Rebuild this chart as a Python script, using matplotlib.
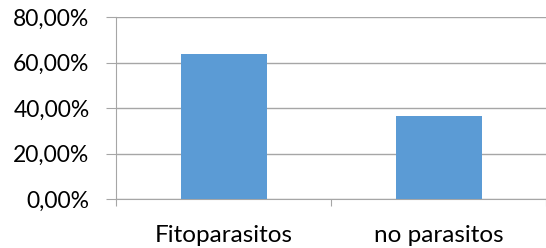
import matplotlib.pyplot as plt
from matplotlib.ticker import FuncFormatter

categorias = ["Fitoparasitos", "no parasitos"]
porcentajes = [0.636, 0.364]
ticks_y = [0.0, 0.2, 0.4, 0.6, 0.8]

plt.rcParams["font.family"] = ["Lato", "DejaVu Sans"]

fig = plt.figure(figsize=(5.46, 2.48), dpi=100)
ax = fig.add_axes([116 / 546, 1 - 199 / 248, 430 / 546, 182 / 248])

gris = "#a6a6a6"
x = list(range(len(categorias)))
ax.bar(x, porcentajes, width=0.40, color="#5b9bd5", zorder=3)

ax.set_xlim(-0.5, 1.5)
ax.set_ylim(0, 0.8)
ax.set_yticks(ticks_y)
ax.yaxis.set_major_formatter(FuncFormatter(lambda v, p: f"{v * 100:.2f}%".replace(".", ",")))
ax.grid(axis="y", color=gris, linewidth=1, zorder=0)

ax.set_xticks([-0.5, 0.5, 1.5])
ax.set_xticklabels([])
ax.set_xticks(x, minor=True)
ax.set_xticklabels(categorias, minor=True)
ax.tick_params(axis="x", which="major", length=5, color=gris, direction="out")
ax.tick_params(axis="x", which="minor", length=0, pad=19, labelsize=17.5)
ax.tick_params(axis="y", length=7, color=gris, pad=12, labelsize=16.5)

for lado in ["top", "right"]:
    ax.spines[lado].set_visible(False)
ax.spines["left"].set_color(gris)
ax.spines["bottom"].set_color(gris)

plt.savefig("out.png", dpi=100)
